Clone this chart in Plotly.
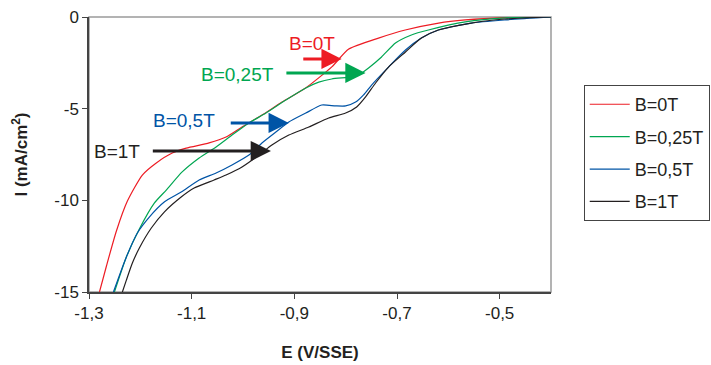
import plotly.graph_objects as go

# ---- data ----
E_B0 = [-1.2796, -1.266, -1.2466, -1.2252, -1.1961, -1.1689, -1.1379, -1.1107, -1.066, -1.033,
        -1.002, -0.963, -0.924, -0.878, -0.827, -0.794, -0.736, -0.684, -0.619, -0.567, -0.489, -0.40]
I_B0 = [-15.0, -13.58, -11.67, -10.04, -8.62, -7.96, -7.42, -7.15, -6.87, -6.55,
        -6.0, -5.35, -4.64, -3.87, -2.72, -1.75, -1.15, -0.71, -0.33, -0.16, -0.03, 0.0]

E_B025 = [-1.2505, -1.2272, -1.2019, -1.1728, -1.1495, -1.1185, -1.0854, -1.0524, -1.0214, -0.9884,
          -0.9553, -0.9165, -0.8777, -0.8524, -0.8272, -0.7884, -0.7748, -0.7554, -0.7301, -0.703,
          -0.6719, -0.6388, -0.567, -0.4893, -0.40]
I_B025 = [-15.0, -13.09, -11.56, -10.15, -9.44, -8.45, -7.69, -7.09, -6.44, -5.78,
          -5.24, -4.53, -3.87, -3.55, -3.38, -3.27, -3.16, -2.78, -2.18, -1.42,
          -0.98, -0.71, -0.27, -0.05, 0.0]

E_B05 = [-1.2524, -1.2272, -1.2058, -1.1825, -1.1534, -1.1204, -1.0854, -1.0524, -1.0214, -0.9884,
         -0.9631, -0.9359, -0.9107, -0.8777, -0.8466, -0.8194, -0.80, -0.7806, -0.7651, -0.7495,
         -0.7165, -0.6835, -0.6525, -0.6194, -0.5553, -0.4893, -0.40]
I_B05 = [-15.0, -13.09, -11.78, -10.91, -10.09, -9.55, -8.89, -8.51, -8.07, -7.53,
         -6.87, -6.27, -5.73, -5.24, -4.80, -4.85, -4.85, -4.64, -4.25, -3.71,
         -2.73, -1.80, -1.15, -0.71, -0.33, -0.16, 0.0]

E_B1 = [-1.235, -1.2272, -1.2155, -1.2019, -1.1786, -1.1534, -1.1204, -1.0951, -1.0563, -1.033,
        -1.0019, -0.9689, -0.9437, -0.9107, -0.8718, -0.833, -0.80, -0.7786, -0.7612, -0.7417,
        -0.7165, -0.6835, -0.6525, -0.6194, -0.5553, -0.4893, -0.40]
I_B1 = [-15.0, -14.35, -13.42, -12.6, -11.51, -10.64, -9.82, -9.33, -8.89, -8.62,
        -8.18, -7.53, -6.98, -6.44, -6.0, -5.51, -5.24, -4.91, -4.36, -3.6,
        -2.73, -1.91, -1.15, -0.71, -0.33, -0.11, 0.0]

series_names = ["B=0T", "B=0,25T", "B=0,5T", "B=1T"]
series_E = [E_B0, E_B025, E_B05, E_B1]
series_I = [I_B0, I_B025, I_B05, I_B1]
colors = ["#ED1C24", "#00A651", "#0054A6", "#231F20"]

# tick labels (hyphen-minus, decimal comma as in the reference)
x_tickvals = [-1.3, -1.1, -0.9, -0.7, -0.5]
x_ticktext = ["-1,3", "-1,1", "-0,9", "-0,7", "-0,5"]
y_tickvals = [0, -5, -10, -15]
y_ticktext = ["0", "-5", "-10", "-15"]

# arrow annotations
arrow_labels = ["B=0T", "B=0,25T", "B=0,5T", "B=1T"]
label_E = [-0.866, -1.011, -1.115, -1.246]
label_I = [-1.42, -3.11, -5.62, -7.36]
arrow_tail_E = [-0.8855, -0.9184, -1.0268, -1.1786]
arrow_head_E = [-0.8078, -0.7612, -0.9107, -0.9456]
arrow_I = [-2.29, -3.05, -5.78, -7.31]

FONT = "Liberation Sans, Arial, sans-serif"

fig = go.Figure()
for name, E, I, c in zip(series_names, series_E, series_I, colors):
    fig.add_trace(go.Scatter(x=E, y=I, mode="lines", name=name, legendgroup=name,
                             line=dict(color=c, width=1.2, shape="spline", smoothing=0.6)))

for lab, lx, ly, tx, hx, ay, c in zip(arrow_labels, label_E, label_I, arrow_tail_E,
                                      arrow_head_E, arrow_I, colors):
    fig.add_annotation(x=hx, y=ay, ax=tx, ay=ay, axref="x", ayref="y", xref="x", yref="y",
                       text="", showarrow=True, arrowhead=2, arrowsize=1.35, arrowwidth=3,
                       arrowcolor=c, standoff=0, startstandoff=0)
    fig.add_annotation(x=lx, y=ly, xref="x", yref="y", text=lab, showarrow=False,
                       font=dict(family=FONT, size=19, color=c))

fig.update_layout(
    width=711, height=365,
    margin=dict(l=89, r=160, t=17, b=73, autoexpand=False),
    paper_bgcolor="white", plot_bgcolor="white",
    font=dict(family=FONT, size=16, color="#231F20"),
    showlegend=True,
    legend=dict(xref="container", yref="container", x=0.821, y=0.767,
                xanchor="left", yanchor="top",
                bordercolor="#444", borderwidth=1, bgcolor="white",
                font=dict(family=FONT, size=18, color="#231F20"),
                tracegroupgap=6, itemwidth=40),
    shapes=[dict(type="rect", xref="paper", yref="paper", x0=0, x1=1, y0=0, y1=1,
                 line=dict(color="#9a9a9a", width=1.5), layer="below")],
)
fig.update_xaxes(range=[-1.3, -0.4], tickvals=x_tickvals, ticktext=x_ticktext,
                 ticks="outside", ticklen=5, tickcolor="#444", showgrid=False, zeroline=False,
                 showline=True, linecolor="#444", linewidth=1.5, automargin=False,
                 tickfont=dict(size=17),
                 title=dict(text="<b>E (V/SSE)</b>", font=dict(size=17), standoff=24))
fig.update_yaxes(range=[-15, 0], tickvals=y_tickvals, ticktext=y_ticktext,
                 ticks="outside", ticklen=5, tickcolor="#444",
                 showgrid=False, zeroline=False, showline=True, linecolor="#444", linewidth=1.5,
                 automargin=False, tickfont=dict(size=17),
                 title=dict(text="<b>I (mA/cm<sup>2</sup>)</b>", font=dict(size=17), standoff=22))

fig.write_html("out.html", config={"displayModeBar": False},
               post_script="document.body.style.margin='0';document.body.style.overflow='hidden';")
